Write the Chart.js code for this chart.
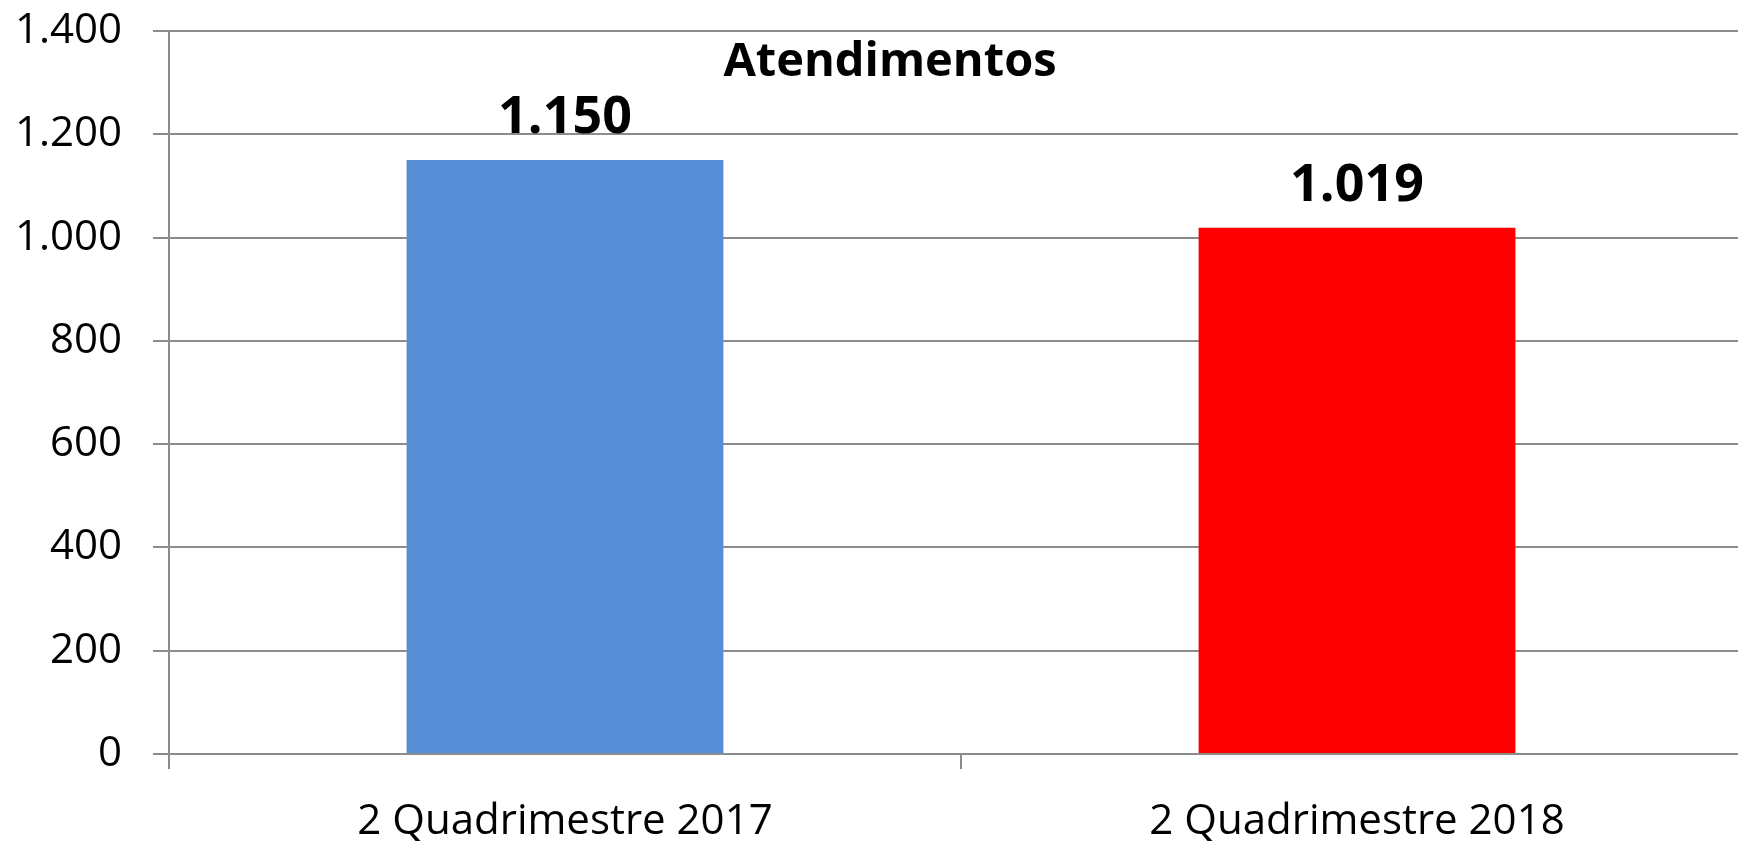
<!DOCTYPE html>
<html>
<head>
<meta charset="utf-8">
<script src="https://cdn.jsdelivr.net/npm/chart.js@4/dist/chart.umd.min.js"></script>
<style>
  html, body { margin: 0; padding: 0; background: #fff; overflow: hidden; }
  #wrap { width: 1760px; height: 853px; position: relative; }
</style>
</head>
<body>
<div id="wrap"><canvas id="chart"></canvas></div>
<script>
// Chart data
const categories = ['2 Quadrimestre 2017', '2 Quadrimestre 2018'];
const atendimentos = [1150, 1019];
const barColors = ['#558ED5', '#FF0000'];
const yTicks = [0, 200, 400, 600, 800, 1000, 1200, 1400];
const chartTitle = 'Atendimentos';

const FONT = "'Open Sans', sans-serif";
const GRID = '#8c8c8c';

// format numbers like 1.400 (pt-BR thousands separator)
const fmt = (v) => String(v).replace(/\B(?=(\d{3})+(?!\d))/g, '.');

// Draws the title over the plot and the value labels above each bar
const labelsPlugin = {
  id: 'labels',
  afterDatasetsDraw(chart) {
    const { ctx, chartArea } = chart;
    ctx.save();
    ctx.fillStyle = '#000';
    ctx.textAlign = 'center';

    ctx.font = `bold 47px ${FONT}`;
    ctx.textBaseline = 'alphabetic';
    ctx.fillText(chartTitle, 890, chartArea.top + 45);

    ctx.font = `bold 52px ${FONT}`;
    const meta = chart.getDatasetMeta(0);
    meta.data.forEach((bar, i) => {
      ctx.fillText(fmt(atendimentos[i]), bar.x, bar.y - 27);
    });
    ctx.restore();
  },
};

new Chart(document.getElementById('chart'), {
  type: 'bar',
  data: {
    labels: categories,
    datasets: [{
      label: chartTitle,
      data: atendimentos,
      backgroundColor: barColors,
      borderWidth: 0,
      categoryPercentage: 1,
      barPercentage: 0.4,
    }],
  },
  options: {
    responsive: true,
    maintainAspectRatio: false,
    animation: false,
    layout: { padding: { top: 31, right: 7, left: 0, bottom: 0 } },
    plugins: {
      legend: { display: false },
      title: { display: false },
      tooltip: { enabled: false },
    },
    scales: {
      x: {
        offset: true,
        grid: {
          offset: true,
          drawOnChartArea: false,
          color: GRID,
          lineWidth: 2,
          tickLength: 15,
        },
        border: { color: GRID, width: 2 },
        ticks: {
          color: '#000',
          font: { family: FONT, size: 42 },
          padding: 28,
          maxRotation: 0,
        },
        afterFit(scale) { scale.height = 99; },
      },
      y: {
        min: 0,
        max: 1400,
        afterBuildTicks(scale) { scale.ticks = yTicks.map((v) => ({ value: v })); },
        grid: {
          color: GRID,
          lineWidth: 2,
          tickLength: 16,
        },
        border: { color: GRID, width: 2 },
        ticks: {
          color: '#000',
          font: { family: FONT, size: 42 },
          padding: 31,
          callback: (v) => fmt(v),
        },
        afterFit(scale) {
          scale.width = 169;
          // tick padding would otherwise push the plot top down
          scale.paddingTop = 0;
          scale.paddingBottom = 0;
        },
      },
    },
  },
  plugins: [labelsPlugin],
});
</script>
</body>
</html>
